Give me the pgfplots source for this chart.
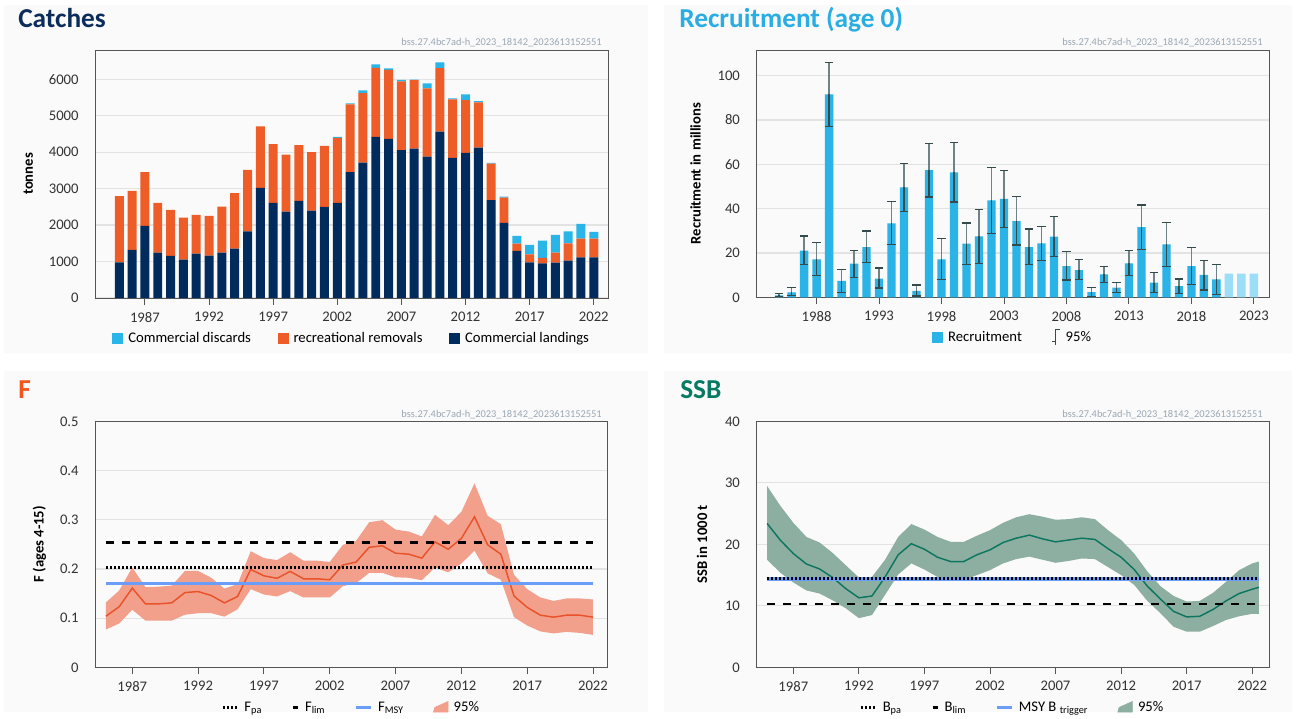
\documentclass[border=0pt]{standalone}
\usepackage{pgfplots}
\pgfplotsset{compat=1.18}
\usepackage{pgfplotstable}
\usepackage{fontspec}
\setmainfont{Carlito}

\definecolor{landings}{HTML}{002B5C}
\definecolor{recrem}{HTML}{EE5D27}
\definecolor{discards}{HTML}{29B5E8}
\definecolor{catchtitle}{HTML}{0B2D5B}
\definecolor{recblue}{HTML}{29B3E6}
\definecolor{reclight}{HTML}{9CDDF7}
\definecolor{rectitle}{HTML}{2AADE3}
\definecolor{errcol}{HTML}{344B4D}
\definecolor{errlight}{HTML}{6F8384}
\definecolor{ftitle}{HTML}{F0561E}
\definecolor{fline}{HTML}{E8532A}
\definecolor{fband}{HTML}{F2A08C}
\definecolor{ssbtitle}{HTML}{087A64}
\definecolor{ssbline}{HTML}{0E7560}
\definecolor{ssbband}{HTML}{8DAFA1}
\definecolor{msyblue}{HTML}{6A9DF8}
\definecolor{gridgray}{HTML}{E3E3E3}
\definecolor{axisgray}{HTML}{555555}
\definecolor{ticktext}{HTML}{333333}
\definecolor{wmark}{HTML}{9AA7B4}
\definecolor{panelbg}{HTML}{FAFAFA}

\pgfplotstableread{
year L R D
1985 979 1811 0
1986 1317 1620 0
1987 1976 1473 0
1988 1244 1363 0
1989 1153 1262 0
1990 1052 1153 0
1991 1217 1061 0
1992 1162 1089 0
1993 1244 1263 0
1994 1354 1519 0
1995 1830 1683 0
1996 3019 1684 0
1997 2608 1610 0
1998 2370 1564 0
1999 2662 1528 0
2000 2397 1601 0
2001 2498 1674 0
2002 2608 1784 27
2003 3449 1858 27
2004 3715 1903 73
2005 4419 1894 91
2006 4364 1894 37
2007 4053 1885 46
2008 4099 1875 15
2009 3879 1867 137
2010 4565 1739 155
2011 3843 1601 27
2012 3980 1445 156
2013 4126 1235 37
2014 2681 1006 18
2015 2059 695 27
2016 1290 201 211
2017 979 220 256
2018 952 146 476
2019 970 274 485
2020 1025 475 330
2021 1116 513 402
2022 1116 513 183
}\catchdata

\pgfplotstableread{
year r hi lo
1985 0.9 1.6 0.4
1986 2.2 4.5 0.8
1987 21.1 27.7 14.9
1988 17.1 24.8 9.9
1989 91.6 106 77
1990 7.4 12.5 2.3
1991 15.2 21.1 8.9
1992 22.7 29.9 15.8
1993 8.4 13.2 4.2
1994 33.4 43.2 23.9
1995 49.6 60.5 38.8
1996 2.9 5.6 0.6
1997 57.4 69.5 45.3
1998 17.1 26.5 8.1
1999 56.4 69.8 43.0
2000 24.2 33.5 14.9
2001 27.5 39.5 15.3
2002 43.8 58.6 28.9
2003 44.4 57.1 31.6
2004 34.4 45.4 23.6
2005 22.7 30.8 14.7
2006 24.4 31.9 16.7
2007 27.4 36.4 18.5
2008 14.1 20.6 7.8
2009 12.3 17.1 8.0
2010 2.4 4.5 0.3
2011 10.4 13.8 6.6
2012 4.4 6.6 2.1
2013 15.3 21.2 9.8
2014 31.7 41.7 21.7
2015 6.6 11.1 2.3
2016 23.9 33.7 14.0
2017 5.0 8.3 1.8
2018 14.1 22.4 5.9
2019 10.1 16.5 3.3
2020 8.1 14.9 1.4
}\recdata

\pgfplotstableread{
year r
2021 10.7
2022 10.7
2023 10.7
}\recproj

\pgfplotstableread{
year f
1985 0.104
1986 0.123
1987 0.161
1988 0.129
1989 0.129
1990 0.131
1991 0.152
1992 0.154
1993 0.146
1994 0.131
1995 0.144
1996 0.199
1997 0.186
1998 0.181
1999 0.195
2000 0.180
2001 0.180
2002 0.178
2003 0.208
2004 0.214
2005 0.244
2006 0.247
2007 0.232
2008 0.230
2009 0.222
2010 0.255
2011 0.240
2012 0.262
2013 0.306
2014 0.249
2015 0.230
2016 0.145
2017 0.122
2018 0.106
2019 0.102
2020 0.106
2021 0.106
2022 0.102
}\fdata

% 95% band of F: upper bound forward, lower bound backward
\pgfplotstableread{
year v
1985 0.132
1986 0.156
1987 0.203
1988 0.163
1989 0.164
1990 0.166
1991 0.196
1992 0.196
1993 0.182
1994 0.160
1995 0.169
1996 0.236
1997 0.222
1998 0.218
1999 0.234
2000 0.217
2001 0.217
2002 0.214
2003 0.249
2004 0.257
2005 0.295
2006 0.299
2007 0.280
2008 0.276
2009 0.266
2010 0.310
2011 0.289
2012 0.316
2013 0.374
2014 0.308
2015 0.291
2016 0.188
2017 0.159
2018 0.142
2019 0.135
2020 0.140
2021 0.140
2022 0.138
2022 0.066
2021 0.070
2020 0.072
2019 0.069
2018 0.073
2017 0.085
2016 0.102
2015 0.178
2014 0.191
2013 0.237
2012 0.211
2011 0.193
2010 0.203
2009 0.177
2008 0.182
2007 0.183
2006 0.192
2005 0.192
2004 0.171
2003 0.165
2002 0.142
2001 0.142
2000 0.142
1999 0.155
1998 0.144
1997 0.148
1996 0.159
1995 0.118
1994 0.103
1993 0.110
1992 0.110
1991 0.107
1990 0.095
1989 0.095
1988 0.095
1987 0.117
1986 0.089
1985 0.077
}\fband

\pgfplotstableread{
year s
1985 23.4
1986 20.7
1987 18.5
1988 16.8
1989 16.0
1990 14.6
1991 12.8
1992 11.3
1993 11.6
1994 14.7
1995 18.3
1996 20.1
1997 19.2
1998 17.9
1999 17.2
2000 17.2
2001 18.3
2002 19.1
2003 20.3
2004 21.0
2005 21.5
2006 20.9
2007 20.4
2008 20.7
2009 21.0
2010 20.8
2011 19.3
2012 17.9
2013 15.9
2014 13.2
2015 11.1
2016 9.1
2017 8.2
2018 8.3
2019 9.4
2020 10.8
2021 12.0
2022 12.7
2022.5 13.0
}\ssbdata

% 95% band of SSB: upper bound forward, lower bound backward
\pgfplotstableread{
year v
1985 29.5
1986 26.3
1987 23.5
1988 21.2
1989 20.3
1990 18.6
1991 16.6
1992 14.6
1993 14.7
1994 17.5
1995 21.2
1996 23.3
1997 22.4
1998 21.2
1999 20.4
2000 20.4
2001 21.4
2002 22.3
2003 23.5
2004 24.4
2005 24.9
2006 24.5
2007 24.0
2008 24.1
2009 24.4
2010 24.1
2011 22.3
2012 20.7
2013 18.5
2014 15.6
2015 13.2
2016 11.6
2017 10.7
2018 10.8
2019 12.1
2020 13.9
2021 15.8
2022 16.9
2022.5 17.2
2022.5 8.7
2022 8.7
2021 8.3
2020 7.7
2019 6.7
2018 5.8
2017 5.8
2016 6.6
2015 8.8
2014 10.8
2013 13.4
2012 15.0
2011 16.3
2010 17.6
2009 17.7
2008 17.3
2007 17.0
2006 17.5
2005 18.0
2004 17.6
2003 16.9
2002 15.8
2001 15.0
2000 14.2
1999 14.2
1998 14.7
1997 15.9
1996 16.9
1995 15.1
1994 11.8
1993 8.5
1992 8.0
1991 9.6
1990 10.9
1989 12.0
1988 12.5
1987 13.8
1986 15.4
1985 17.5
}\ssbband

\pgfplotsset{
  panel/.style={
    scale only axis, anchor=south west,
    axis line style={draw=axisgray, line width=0.7pt},
    ymajorgrids, grid style={draw=gridgray, line width=0.9pt},
    tick label style={font=\fontsize{11}{12}\selectfont, text=ticktext},
    /pgf/number format/assume math mode=true,
    /pgf/number format/1000 sep={},
    tick align=outside, major tick length=5pt,
    xtick pos=bottom, ytick pos=left,
    xtick style={draw=axisgray, line width=0.7pt},
    ytick style={draw=none},
    xticklabel style={yshift=-2pt},
    yticklabel style={xshift=-4pt},
    ylabel style={font=\fontsize{11}{12}\selectfont\bfseries, anchor=center},
    legend style={draw=none, fill=none, font=\fontsize{11}{12}\selectfont, anchor=center,
      /tikz/every even column/.append style={column sep=17pt},
      /tikz/every odd column/.append style={column sep=2pt}},
    legend columns=-1,
    legend cell align=left,
  },
  sq/.style={legend image code/.code={\fill[#1] (0pt,-3.75pt) rectangle (7.5pt,3.75pt);}},
}

\begin{document}
\begin{tikzpicture}
\fill[white] (0,0) rectangle (977.25pt,537pt);
\fill[panelbg] (3pt,272pt) rectangle (486pt,533pt);
\fill[panelbg] (498pt,272pt) rectangle (969pt,533pt);
\fill[panelbg] (3pt,3pt) rectangle (486pt,259pt);
\fill[panelbg] (498pt,3pt) rectangle (969pt,259pt);

% titles
\node[anchor=base west, font=\fontsize{20.5}{24}\selectfont\bfseries, text=catchtitle, inner sep=0pt] at (13.5pt,516pt) {Catches};
\node[anchor=base west, font=\fontsize{20.5}{24}\selectfont\bfseries, text=rectitle, inner sep=0pt] at (509.25pt,516pt) {Recruitment (age 0)};
\node[anchor=base west, font=\fontsize{20.5}{24}\selectfont\bfseries, text=ftitle, inner sep=0pt] at (13.5pt,237.75pt) {F};
\node[anchor=base west, font=\fontsize{20.5}{24}\selectfont\bfseries, text=ssbtitle, inner sep=0pt] at (510pt,237.75pt) {SSB};
% watermarks
\foreach \p in {(451.5pt,502.5pt),(947.25pt,502.5pt),(451.5pt,224pt),(947.25pt,224pt)}
  \node[anchor=base east, font=\fontsize{7.8}{9}\selectfont, text=wmark, inner sep=0pt] at \p {bss.27.4bc7ad-h\_2023\_18142\_2023613152551};

% ---------------- Catches
\begin{axis}[panel, at={(71.475pt,313.5pt)}, width=385.1pt, height=186pt,
  ybar stacked, bar width=0.7,
  xmin=1983.13, xmax=2023.17, ymin=0, ymax=6800,
  xtick={1987,1992,...,2022}, ytick={0,1000,...,6000},
  ylabel={tonnes}, ylabel style={at={(axis description cs:-0.1305,0.5)}},
  legend style={at={(0.5,-0.161)}, /tikz/every even column/.append style={column sep=18pt}},
]
\addlegendimage{sq=discards}\addlegendentry{Commercial discards}
\addlegendimage{sq=recrem}\addlegendentry{recreational removals}
\addlegendimage{sq=landings}\addlegendentry{Commercial landings}
\addplot[fill=landings, draw=none] table[x=year,y=L]{\catchdata};
\addplot[fill=recrem, draw=none] table[x=year,y=R]{\catchdata};
\addplot[fill=discards, draw=none] table[x=year,y=D]{\catchdata};
\end{axis}

% ---------------- Recruitment
\begin{axis}[panel, at={(567.45pt,314.0pt)}, width=384.5pt, height=185.5pt,
  xmin=1983.2, xmax=2024.23, ymin=0, ymax=111.6,
  xtick={1988,1993,...,2023}, ytick={0,20,...,100},
  ylabel={Recruitment in millions}, ylabel style={at={(axis description cs:-0.119,0.5)}},
  legend style={at={(0.5,-0.161)}, /tikz/every even column/.append style={column sep=20pt}},
]
\addlegendimage{sq=recblue}\addlegendentry{Recruitment}
\addlegendimage{legend image code/.code={\draw[errcol, line width=0.8pt] (5pt,-6pt) -- (5pt,6pt); \draw[errcol, line width=0.8pt] (5pt,5.6pt) -- (8pt,5.6pt); \draw[errcol, line width=0.8pt] (2pt,-3pt) -- (5pt,-3pt);}}\addlegendentry{95\%}
\addplot[ybar, bar width=0.67, bar shift=0pt, fill=reclight, draw=none] table[x=year,y=r]{\recproj};
\addplot[ybar, bar width=0.67, bar shift=0pt, fill=recblue, draw=none,
  error bars/.cd, y dir=plus, y explicit,
  error bar style={draw=errlight, line width=0.9pt},
  error mark options={rotate=90, draw=errcol, line width=0.9pt, mark size=3.2pt}]
  table[x=year, y=r, y error plus expr=\thisrow{hi}-\thisrow{r}]{\recdata};
\addplot[draw=none, mark=none, forget plot,
  error bars/.cd, y dir=minus, y explicit,
  error bar style={draw=errcol, line width=0.9pt},
  error mark options={rotate=90, draw=errcol, line width=0.9pt, mark size=3.2pt}]
  table[x=year, y=r, y error minus expr=\thisrow{r}-\thisrow{lo}]{\recdata};
\end{axis}

% ---------------- F
\begin{axis}[panel, at={(71.475pt,36.5pt)}, width=384.4pt, height=184.5pt,
  xmin=1984.19, xmax=2023.13, ymin=0, ymax=0.5,
  xtick={1987,1992,...,2022}, ytick={0,0.1,0.2,0.3,0.4,0.5},
  yticklabel style={/pgf/number format/fixed},
  ylabel={F (ages 4-15)}, ylabel style={at={(axis description cs:-0.109,0.5)}},
  legend style={at={(0.5,-0.163)}, /tikz/every even column/.append style={column sep=20pt}},
]
\addlegendimage{legend image code/.code={\draw[black, line width=2.2pt, dash pattern=on 1.5pt off 1.5pt] (0pt,0pt) -- (11pt,0pt);}}\addlegendentry{F\textsubscript{pa}}
\addlegendimage{legend image code/.code={\draw[black, line width=2.2pt] (6pt,0pt) -- (10pt,0pt);}}\addlegendentry{F\textsubscript{lim}}
\addlegendimage{legend image code/.code={\draw[msyblue, line width=2.5pt] (0pt,0pt) -- (11pt,0pt);}}\addlegendentry{F\textsubscript{MSY}}
\addlegendimage{legend image code/.code={\fill[fband] (0pt,-3.5pt) -- (11pt,-3.5pt) -- (11pt,4.5pt) -- (1pt,0pt) -- cycle;}}\addlegendentry{95\%}
\addplot[fill=fband, draw=none, forget plot] table[x=year,y=v]{\fband} -- cycle;
\addplot[fline, line width=1.1pt, forget plot] table[x=year,y=f]{\fdata};
\addplot[msyblue, line width=2.5pt, forget plot] coordinates {(1985,0.171) (2022,0.171)};
\addplot[black, line width=2.2pt, dash pattern=on 1.5pt off 1.5pt, forget plot] coordinates {(1985,0.202) (2022,0.202)};
\addplot[black, line width=2.2pt, dash pattern=on 6pt off 6pt, forget plot] coordinates {(1985,0.254) (2022,0.254)};
\end{axis}

% ---------------- SSB
\begin{axis}[panel, at={(567.45pt,36.5pt)}, width=384.5pt, height=184.5pt,
  xmin=1984.2, xmax=2023.3, ymin=0, ymax=40,
  xtick={1987,1992,...,2022}, ytick={0,10,...,40},
  ylabel={SSB in 1000 t}, ylabel style={at={(axis description cs:-0.1065,0.5)}},
  legend style={at={(0.5,-0.163)}, /tikz/every even column/.append style={column sep=20pt}},
]
\addlegendimage{legend image code/.code={\draw[black, line width=2.2pt, dash pattern=on 1.5pt off 1.5pt] (0pt,0pt) -- (11pt,0pt);}}\addlegendentry{B\textsubscript{pa}}
\addlegendimage{legend image code/.code={\draw[black, line width=2.2pt] (6pt,0pt) -- (10pt,0pt);}}\addlegendentry{B\textsubscript{lim}}
\addlegendimage{legend image code/.code={\draw[msyblue, line width=2.5pt] (0pt,0pt) -- (11pt,0pt);}}\addlegendentry{MSY B \textsubscript{trigger}}
\addlegendimage{legend image code/.code={\fill[ssbband] (0pt,-3.5pt) -- (11pt,-3.5pt) -- (11pt,4.5pt) -- (1pt,0pt) -- cycle;}}\addlegendentry{95\%}
\addplot[fill=ssbband, draw=none, forget plot] table[x=year,y=v]{\ssbband} -- cycle;
\addplot[ssbline, line width=1.1pt, forget plot] table[x=year,y=s]{\ssbdata};
\addplot[msyblue, line width=3pt, forget plot] coordinates {(1985,14.4) (2022.5,14.4)};
\addplot[black, line width=2.2pt, dash pattern=on 1.5pt off 1.5pt, forget plot] coordinates {(1985,14.4) (2022.5,14.4)};
\addplot[black, line width=2.2pt, dash pattern=on 6pt off 6pt, forget plot] coordinates {(1985,10.3) (2022.5,10.3)};
\end{axis}
\end{tikzpicture}
\end{document}
